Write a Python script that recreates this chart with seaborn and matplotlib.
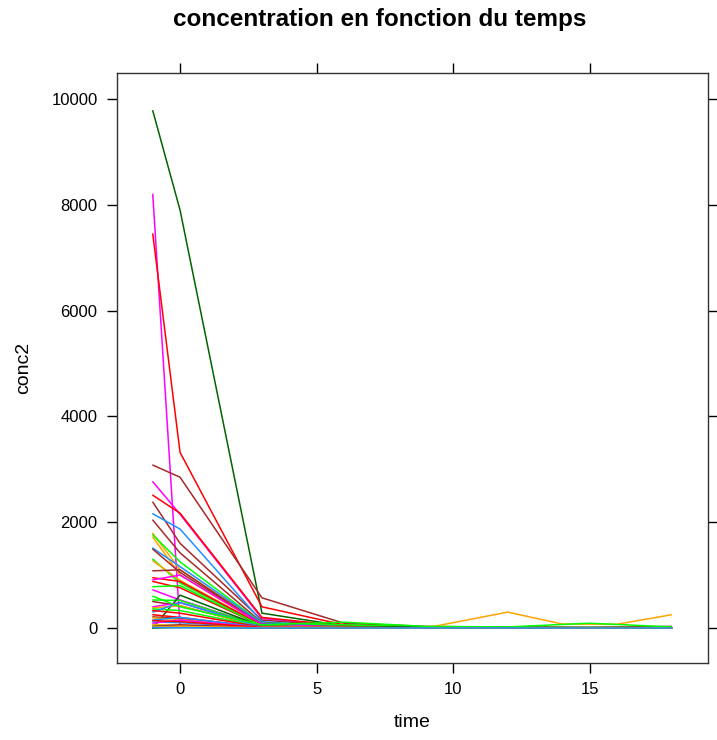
"""
concentration en fonction du temps - spaghetti plot (style lattice xyplot)
"""
import matplotlib
matplotlib.use('Agg')
import matplotlib.pyplot as plt
import numpy as np
import pandas as pd
import seaborn as sns

sns.set_style('ticks')
plt.rcParams['font.family'] = ['Liberation Sans', 'DejaVu Sans']
plt.rcParams['text.color'] = 'black'
plt.rcParams['axes.labelcolor'] = 'black'

# ─────────────────────────────────────────────
# Données
# ─────────────────────────────────────────────
temps = [-1, 0, 3, 6, 9, 12, 14, 15, 16, 18]

couleurs = ['darkgreen', 'magenta', 'red', 'brown', 'magenta', 'red', 'brown', 'dodgerblue',
            'brown', 'orange', 'lime', 'orange', 'dodgerblue', 'brown', 'lime', 'orange',
            'brown', 'red', 'magenta', 'red', 'lime', 'magenta', 'lime', 'brown',
            'darkgreen', 'magenta', 'orange', 'lime', 'dodgerblue', 'red', 'brown', 'orange',
            'dodgerblue', 'lime', 'red', 'dodgerblue', 'orange', 'lime', 'magenta', 'brown',
            'red', 'darkgreen', 'orange', 'dodgerblue']

c_tm1 = [9780, 8200, 7450, 3080, 2766, 2510, 2380, 2160,
         2040, 1790, 1760, 1720, 1510, 1490, 1300, 1270,
         1080, 950, 910, 880, 780, 720, 530, 500,
         0, 400, 380, 360, 300, 250, 210, 190,
         115, 55, 330, 150, 60, 600, 90, 30,
         140, 0, 20, 10]
c_t0 = [7900, 30, 3320, 2850, 2150, 2170, 1600, 1870,
        1420, 1100, 1250, 1000, 1160, 1050, 850, 900,
        1100, 880, 1000, 760, 800, 530, 520, 420,
        620, 480, 420, 330, 480, 200, 180, 160,
        100, 40, 280, 200, 50, 400, 150, 60,
        120, 10, 30, 5]
c_t3 = [280, 10, 400, 570, 180, 200, 150, 120,
        100, 80, 90, 60, 90, 70, 50, 50,
        60, 50, 70, 40, 40, 30, 30, 20,
        30, 20, 20, 20, 15, 10, 10, 10,
        5, 5, 15, 10, 20, 60, 10, 5,
        10, 0, 5, 0]
c_t6 = [40, 5, 60, 90, 30, 40, 30, 20,
        20, 15, 60, 10, 15, 15, 10, 10,
        10, 10, 10, 5, 10, 5, 5, 5,
        10, 5, 5, 5, 5, 5, 5, 5,
        0, 0, 5, 5, 10, 110, 5, 0,
        5, 0, 0, 0]
c_t9 = [20, 0, 20, 30, 10, 10, 10, 10,
        5, 5, 20, 5, 5, 5, 5, 5,
        5, 5, 5, 0, 5, 0, 0, 0,
        20, 0, 0, 0, 0, 0, 0, 0,
        0, 0, 0, 0, 0, 30, 0, 0,
        0, 0, 0, 0]
c_t12 = [10, 0, 10, 15, 5, 5, 5, 5,
         5, 5, 10, 5, 0, 5, 0, 0,
         0, 0, 0, 0, 0, 0, 0, 0,
         10, 0, 0, 0, 0, 0, 0, 0,
         0, 0, 0, 0, 300, 20, 0, 0,
         0, 0, 0, 0]
c_t14 = [np.nan] * 36 + [75] + [np.nan] * 7
c_t15 = [5, 0, 5, 10, 5, 5, 5, 5,
         5, 5, 10, 5, 0, 5, 0, 0,
         0, 0, 0, 0, 0, 0, 0, 0,
         5, 0, 0, 0, 0, 0, 0, 0,
         0, 0, 0, 0, np.nan, 90, 0, 0,
         0, 0, 0, 0]
c_t16 = [np.nan] * 36 + [70] + [np.nan] * 7
c_t18 = [5, 0, 20, 30, 5, 5, 5, 5,
         5, 5, 10, 5, 0, 10, 0, 0,
         0, 0, 0, 0, 0, 0, 0, 0,
         5, 0, 0, 0, 0, 0, 0, 0,
         0, 0, 0, 0, 250, 20, 0, 0,
         0, 0, 0, 0]

colonnes = [c_tm1, c_t0, c_t3, c_t6, c_t9, c_t12, c_t14, c_t15, c_t16, c_t18]

# Format long pour seaborn
lignes = []
for t, col in zip(temps, colonnes):
    for i, v in enumerate(col):
        lignes.append({'id': i, 'time': t, 'conc2': v})
df = pd.DataFrame(lignes).dropna().sort_values(['id', 'time'])
palette = {i: c for i, c in enumerate(couleurs)}

# ─────────────────────────────────────────────
# Graphique
# ─────────────────────────────────────────────
fig = plt.figure(figsize=(7.17, 7.4), dpi=100)
ax = fig.add_axes([117 / 717, 77 / 740, 591 / 717, 590 / 740])

sns.lineplot(data=df, x='time', y='conc2', hue='id', palette=palette, units='id',
             estimator=None, sort=False, legend=False, linewidth=1.1, ax=ax)

ax.set_xlim(-2.31, 19.34)
ax.set_ylim(-662, 10492)
ax.set_xticks([0, 5, 10, 15])
ax.set_yticks([0, 2000, 4000, 6000, 8000, 10000])
ax.tick_params(direction='out', length=7, width=1, colors='black', labelsize=12,
               top=True, right=True, labeltop=False, labelright=False, pad=7)
for s in ax.spines.values():
    s.set_visible(True)
    s.set_linewidth(1)
    s.set_color('#333333')

ax.set_xlabel('time', fontsize=14, labelpad=12, color='black')
ax.set_ylabel('conc2', fontsize=14, labelpad=14, color='black')
fig.suptitle('concentration en fonction du temps', fontsize=17.5, fontweight='bold',
             x=380 / 717, y=0.973, va='center', color='black')

plt.savefig('out.png', dpi=100)
plt.close()
